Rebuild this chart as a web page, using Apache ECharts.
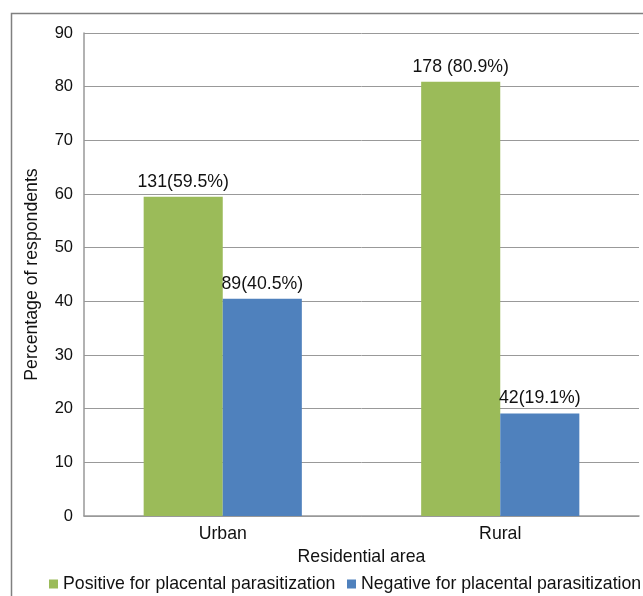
<!DOCTYPE html>
<html>
<head>
<meta charset="utf-8">
<script src="https://cdn.jsdelivr.net/npm/echarts@6/dist/echarts.min.js"></script>
<style>
  html, body { margin: 0; padding: 0; background: #fff; }
  #chart { width: 643px; height: 596px; }
</style>
</head>
<body>
<div id="chart"></div>
<script>
// Placental parasitization by residential area
const categories = ['Urban', 'Rural'];
const positivePct = [59.5, 80.9];
const negativePct = [40.5, 19.1];
const positiveLabels = ['131(59.5%)', '178 (80.9%)'];
const negativeLabels = ['89(40.5%)', '42(19.1%)'];
const yTicks = { min: 0, max: 90, interval: 10 };
const seriesNames = ['Positive for placental parasitization', 'Negative for placental parasitization'];

const FONT = 'Liberation Sans, Arial, sans-serif';
const TEXT = '#111';
const FS = 17.7;
const chart = echarts.init(document.getElementById('chart'), null, { renderer: 'canvas' });

function labelFor(texts) {
  return {
    show: true,
    position: 'top',
    distance: 6,
    color: TEXT,
    fontFamily: FONT,
    fontSize: FS,
    formatter: p => texts[p.dataIndex]
  };
}

function legendAt(left, name) {
  return {
    left: left,
    top: 575,
    itemWidth: 9,
    itemHeight: 9,
    itemGap: 0,
    icon: 'rect',
    padding: 0,
    textStyle: { fontFamily: FONT, fontSize: FS, color: TEXT },
    data: [name]
  };
}

chart.setOption({
  animation: false,
  textStyle: { fontFamily: FONT },
  graphic: [{
    type: 'rect',
    shape: { x: 11.5, y: 13.5, width: 800, height: 800 },
    style: { fill: 'none', stroke: '#808080', lineWidth: 1.5 },
    z: -1
  }],
  grid: { left: 84, right: 4, top: 33, bottom: 80, containLabel: false },
  legend: [legendAt(49, seriesNames[0]), legendAt(347, seriesNames[1])],
  xAxis: {
    type: 'category',
    data: categories,
    name: 'Residential area',
    nameLocation: 'middle',
    nameGap: 24,
    nameTextStyle: { fontFamily: FONT, fontSize: FS, color: TEXT },
    axisLine: { lineStyle: { color: '#999', width: 1.5 } },
    axisTick: { show: false },
    axisLabel: { fontFamily: FONT, fontSize: FS, color: TEXT, margin: 9 }
  },
  yAxis: {
    type: 'value',
    min: yTicks.min,
    max: yTicks.max,
    interval: yTicks.interval,
    name: 'Percentage of respondents',
    nameLocation: 'middle',
    nameGap: 43,
    nameTextStyle: { fontFamily: FONT, fontSize: FS, color: TEXT },
    axisLine: { show: true, lineStyle: { color: '#999', width: 1.5 } },
    axisTick: { show: false },
    splitLine: { lineStyle: { color: '#999', width: 1 } },
    axisLabel: { fontFamily: FONT, fontSize: 16.5, color: TEXT, margin: 11 }
  },
  series: [
    {
      name: seriesNames[0],
      type: 'bar',
      data: positivePct,
      barGap: '0%',
      barCategoryGap: '43%',
      itemStyle: { color: '#9BBB59' },
      label: labelFor(positiveLabels)
    },
    {
      name: seriesNames[1],
      type: 'bar',
      data: negativePct,
      itemStyle: { color: '#4F81BD' },
      label: labelFor(negativeLabels)
    }
  ]
});
</script>
</body>
</html>
